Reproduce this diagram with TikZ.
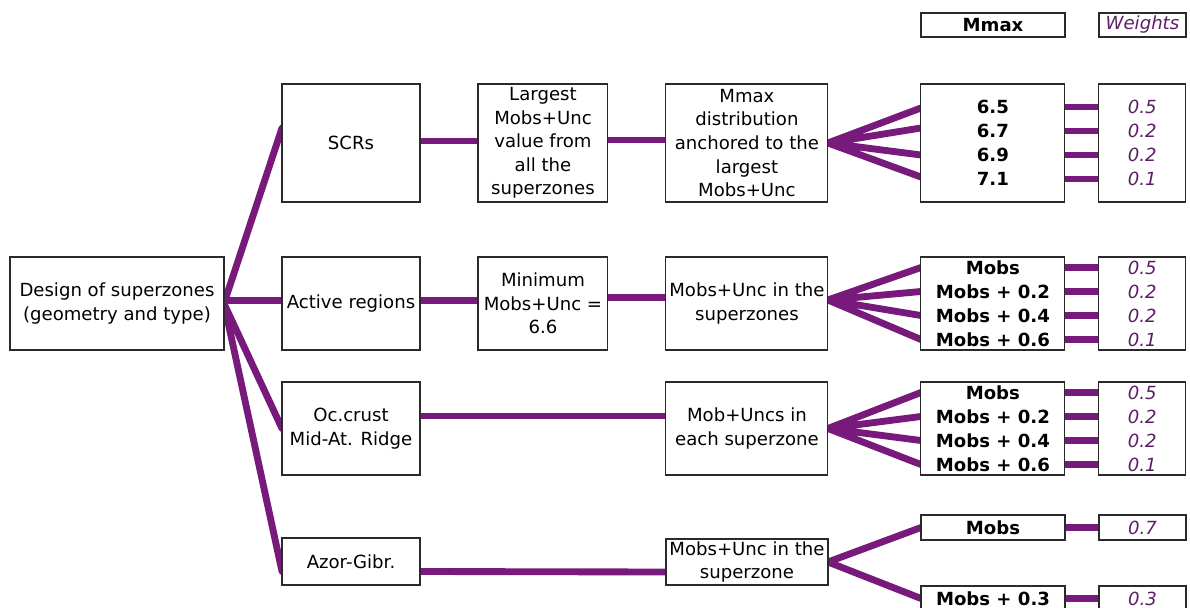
\documentclass[tikz,border=0pt]{standalone}
\usepackage{fontspec}
\setmainfont{DejaVu Sans}
\usetikzlibrary{positioning, backgrounds}
\definecolor{lineaMorada}{HTML}{781A7C}
\definecolor{textoMorado}{HTML}{5C1F66}
\definecolor{bordeCaja}{HTML}{2A2A2A}

\begin{document}
\begin{tikzpicture}[x=0.02cm, y=-0.02cm,
        box/.style={draw=bordeCaja, line width=0.6pt, fill=white, align=center, inner sep=0pt,
            outer sep=0pt, font=\fontsize{10.3}{13.4}\selectfont},
        tall/.style={box, minimum height=2.36cm},
        mid/.style={box, minimum height=1.86cm},
        valbox/.style={box, minimum width=2.88cm, font=\fontsize{10.3}{13.66}\selectfont\bfseries},
        wbox/.style={box, minimum width=1.74cm, text=textoMorado,
            font=\fontsize{10.3}{13.66}\selectfont\itshape},
        link/.style={draw=lineaMorada, line width=3.9pt, line cap=round}
    ]
        \useasboundingbox (0,0) rectangle (1190,608);

        % first two columns
        \node[mid, minimum width=4.28cm] (design) at (117,303.5) {Design of superzones\\(geometry and type)};
        \node[tall, minimum width=2.76cm] (scrs) at (351,143) {SCRs};
        \node[mid, minimum width=2.76cm] (active) at (351,303.5) {Active regions};
        \node[mid, minimum width=2.76cm] (ocrust) at (351,428.5) {Oc.crust\\Mid-At. Ridge};
        \node[box, minimum width=2.76cm, minimum height=0.94cm] (azor) at (351,561.5) {Azor-Gibr.};

        % rules for the Mmax choice
        \node[tall, minimum width=2.6cm, right=1.16cm of scrs] (largest)
            {Largest\\Mobs+Unc\\value from\\all the\\superzones};
        \node[mid, minimum width=2.6cm, right=1.16cm of active] (minimum)
            {Minimum\\Mobs+Unc =\\6.6};
        \node[tall, minimum width=3.24cm, right=1.16cm of largest] (anchored)
            {Mmax\\distribution\\anchored to the\\largest\\Mobs+Unc};
        \node[mid, minimum width=3.24cm, right=1.16cm of minimum] (zones)
            {Mobs+Unc in the\\superzones};
        \node[mid, minimum width=3.24cm, right=4.92cm of ocrust] (each)
            {Mob+Uncs in\\each superzone};
        \node[box, minimum width=3.24cm, minimum height=0.92cm] (zone) at (747,562)
            {Mobs+Unc in the\\superzone};

        % Mmax values and weights
        \node[valbox, minimum height=0.48cm] (hmmax) at (993,25) {Mmax};
        \node[wbox, minimum height=0.48cm, right=0.68cm of hmmax] (hweights) {Weights};
        \node[valbox, minimum height=2.36cm, right=1.86cm of anchored] (vscr) {6.5\\6.7\\6.9\\7.1};
        \node[wbox, minimum height=2.36cm, right=0.68cm of vscr] (wscr) {0.5\\0.2\\0.2\\0.1};
        \node[valbox, minimum height=1.86cm, right=1.86cm of zones] (vact)
            {Mobs\\Mobs + 0.2\\Mobs + 0.4\\Mobs + 0.6};
        \node[wbox, minimum height=1.86cm, right=0.68cm of vact] (wact) {0.5\\0.2\\0.2\\0.1};
        \node[valbox, minimum height=1.86cm, right=1.86cm of each] (voc)
            {Mobs\\Mobs + 0.2\\Mobs + 0.4\\Mobs + 0.6};
        \node[wbox, minimum height=1.86cm, right=0.68cm of voc] (woc) {0.5\\0.2\\0.2\\0.1};
        \node[valbox, minimum height=0.5cm] (vazA) at (993,527.5) {Mobs};
        \node[wbox, minimum height=0.5cm, right=0.68cm of vazA] (wazA) {0.7};
        \node[valbox, minimum height=0.5cm] (vazB) at (993,598.5) {Mobs + 0.3};
        \node[wbox, minimum height=0.5cm, right=0.68cm of vazB] (wazB) {0.3};

        \begin{scope}[on background layer]
            \fill[white] (0,0) rectangle (1190,608);

            \draw[link] (design.east) -- ([yshift=0.3cm]scrs.west);
            \draw[link] ([yshift=0.06cm]design.east) -- ([yshift=0.06cm]active.west);
            \draw[link] (design.east) -- (ocrust.west);
            \draw[link] (design.east) -- ([yshift=-0.2cm]azor.west);

            \draw[link] ([yshift=0.04cm]scrs.east) -- ([yshift=0.04cm]largest.west);
            \draw[link] ([yshift=0.06cm]largest.east) -- ([yshift=0.06cm]anchored.west);
            \draw[link] ([yshift=0.06cm]active.east) -- ([yshift=0.06cm]minimum.west);
            \draw[link] ([yshift=0.12cm]minimum.east) -- ([yshift=0.12cm]zones.west);
            \draw[link] ([yshift=0.25cm]ocrust.east) -- ([yshift=0.25cm]each.west);
            \draw[link] ([yshift=-0.2cm]azor.east) -- ([yshift=-0.2cm]zone.west);

            \draw[link] (anchored.east) -- ([yshift=0.7cm]vscr.west)
                (anchored.east) -- ([yshift=0.3cm]vscr.west)
                (anchored.east) -- ([yshift=-0.24cm]vscr.west)
                (anchored.east) -- ([yshift=-0.68cm]vscr.west);
            \draw[link] ([yshift=0.07cm]zones.east) -- ([yshift=0.72cm]vact.west)
                ([yshift=0.07cm]zones.east) -- ([yshift=0.24cm]vact.west)
                ([yshift=0.07cm]zones.east) -- ([yshift=-0.24cm]vact.west)
                ([yshift=0.07cm]zones.east) -- ([yshift=-0.72cm]vact.west);
            \draw[link] (each.east) -- ([yshift=0.72cm]voc.west)
                (each.east) -- ([yshift=0.24cm]voc.west)
                (each.east) -- ([yshift=-0.24cm]voc.west)
                (each.east) -- ([yshift=-0.72cm]voc.west);
            \draw[link] (zone.east) -- (vazA.west) (zone.east) -- (vazB.west);

            \draw[link] ([yshift=0.72cm]vscr.east) -- ([yshift=0.72cm]wscr.west)
                ([yshift=0.24cm]vscr.east) -- ([yshift=0.24cm]wscr.west)
                ([yshift=-0.24cm]vscr.east) -- ([yshift=-0.24cm]wscr.west)
                ([yshift=-0.72cm]vscr.east) -- ([yshift=-0.72cm]wscr.west);
            \draw[link] ([yshift=0.72cm]vact.east) -- ([yshift=0.72cm]wact.west)
                ([yshift=0.24cm]vact.east) -- ([yshift=0.24cm]wact.west)
                ([yshift=-0.24cm]vact.east) -- ([yshift=-0.24cm]wact.west)
                ([yshift=-0.72cm]vact.east) -- ([yshift=-0.72cm]wact.west);
            \draw[link] ([yshift=0.72cm]voc.east) -- ([yshift=0.72cm]woc.west)
                ([yshift=0.24cm]voc.east) -- ([yshift=0.24cm]woc.west)
                ([yshift=-0.24cm]voc.east) -- ([yshift=-0.24cm]woc.west)
                ([yshift=-0.72cm]voc.east) -- ([yshift=-0.72cm]woc.west);
            \draw[link] (vazA.east) -- (wazA.west) (vazB.east) -- (wazB.west);
        \end{scope}
    \end{tikzpicture}
\end{document}
